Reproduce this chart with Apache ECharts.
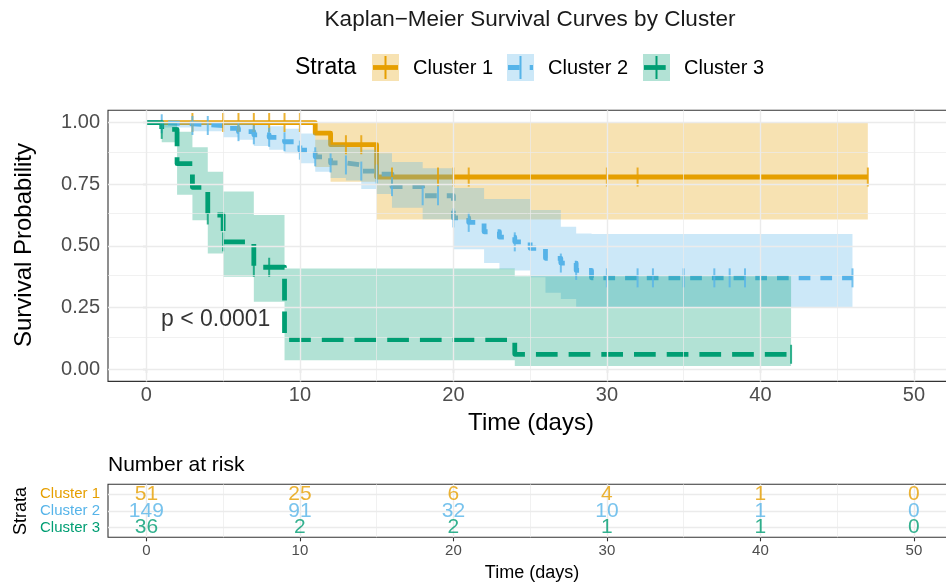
<!DOCTYPE html>
<html><head><meta charset="utf-8">
<script src="https://cdn.jsdelivr.net/npm/echarts@6/dist/echarts.min.js"></script>
<style>html,body{margin:0;padding:0;background:#fff}#c{width:946px;height:585px}</style>
</head><body><div id="c"></div>
<script>
// ---------------- data ----------------
const clusterNames = ['Cluster 1', 'Cluster 2', 'Cluster 3'];
const colors = ['#E69F00', '#56B4E9', '#009E73'];

// Cluster 1 (KM steps)
const c1Time  = [0, 11, 12, 15, 47];
const c1Surv  = [1.0, 0.957, 0.91, 0.779, 0.779];
const c1Lower = [1.0, 0.82, 0.76, 0.607, 0.607];
const c1Upper = [1.0, 1.0, 1.0, 1.0, 1.0];
const c1Censor = [3, 5, 6, 7, 8, 9, 10, 13, 14, 16, 19, 20, 21, 30, 32, 47];

// Cluster 2
const c2Time  = [0, 1, 3, 5, 6, 7, 8, 9, 10, 11, 12, 13, 14, 15, 16, 18, 20, 21, 22, 23, 24, 25, 26, 27, 28, 29, 46];
const c2Surv  = [1.0, 0.995, 0.988, 0.976, 0.963, 0.95, 0.94, 0.922, 0.888, 0.861, 0.836, 0.828, 0.803, 0.791, 0.74, 0.703, 0.613, 0.595, 0.557, 0.535, 0.516, 0.49, 0.449, 0.43, 0.40, 0.37, 0.37];
const c2Lower = [1.0, 0.98, 0.965, 0.94, 0.93, 0.905, 0.89, 0.875, 0.835, 0.80, 0.775, 0.765, 0.73, 0.71, 0.654, 0.608, 0.486, 0.486, 0.43, 0.405, 0.40, 0.372, 0.31, 0.284, 0.25, 0.25, 0.25];
const c2Upper = [1.0, 1.0, 1.0, 1.0, 0.995, 0.99, 0.985, 0.975, 0.955, 0.93, 0.91, 0.90, 0.89, 0.875, 0.84, 0.815, 0.734, 0.734, 0.69, 0.69, 0.69, 0.645, 0.645, 0.577, 0.55, 0.548, 0.548];
const c2Censor = [1, 3, 4, 6, 7, 8, 9, 10, 11, 12, 13, 14, 15, 16, 18, 19, 20, 21, 24, 27, 28, 30, 32, 33, 35, 37, 38, 39, 46];

// Cluster 3
const c3Time  = [0, 1, 2, 3, 4, 5, 7, 9, 24, 42];
const c3Surv  = [1.0, 0.972, 0.833, 0.737, 0.625, 0.516, 0.413, 0.12, 0.06, 0.06];
const c3Lower = [1.0, 0.92, 0.707, 0.604, 0.469, 0.374, 0.273, 0.036, 0.012, 0.012];
const c3Upper = [1.0, 1.0, 0.963, 0.90, 0.80, 0.72, 0.625, 0.408, 0.376, 0.376];
const c3Censor = [1, 4, 5, 7, 8, 42];

// Number at risk table
const riskTimes = [0, 10, 20, 30, 40, 50];
const risk1 = [51, 25, 6, 4, 1, 0];
const risk2 = [149, 91, 32, 10, 1, 0];
const risk3 = [36, 2, 2, 1, 1, 0];

// ticks
const xTicks = [0, 10, 20, 30, 40, 50];
const xMinor = [5, 15, 25, 35, 45];
const yTicks = [0, 0.25, 0.5, 0.75, 1.0];
const yMinor = [0.125, 0.375, 0.625, 0.875];
const riskRows = [3, 2, 1];           // row position of Cluster 1,2,3 in the table
const pvalText = 'p < 0.0001';
const pvalPos = [0.95, 0.2];

// ---------------- build ----------------
const FONT = '"Liberation Sans", Arial, Helvetica, sans-serif';
const pairs = (xs, ys) => xs.map((x, i) => [x, ys[i]]);
function stepValue(times, surv, t) {
  let v = surv[0];
  for (let i = 0; i < times.length; i++) if (times[i] <= t) v = surv[i];
  return v;
}
const clusters = [
  {time: c1Time, surv: c1Surv, lower: c1Lower, upper: c1Upper, censor: c1Censor, dash: 'solid', risk: risk1},
  {time: c2Time, surv: c2Surv, lower: c2Lower, upper: c2Upper, censor: c2Censor, dash: [11.7, 10], risk: risk2},
  {time: c3Time, surv: c3Surv, lower: c3Lower, upper: c3Upper, censor: c3Censor, dash: [21.7, 11], risk: risk3}
];

const GRID_MAJ = '#ebebeb';
function gridLines(xMaj, xMin, yMaj, yMin) {
  const d = [];
  yMin.forEach(v => d.push({yAxis: v, lineStyle: {color: GRID_MAJ, width: 0.7, type: 'solid'}}));
  xMin.forEach(v => d.push({xAxis: v, lineStyle: {color: GRID_MAJ, width: 0.7, type: 'solid'}}));
  yMaj.forEach(v => d.push({yAxis: v, lineStyle: {color: GRID_MAJ, width: 1.4, type: 'solid'}}));
  xMaj.forEach(v => d.push({xAxis: v, lineStyle: {color: GRID_MAJ, width: 1.4, type: 'solid'}}));
  return d;
}

const series = [];
series.push({
  type: 'line', xAxisIndex: 0, yAxisIndex: 0, data: [[0, 0]], symbol: 'none', silent: true, z: 1,
  lineStyle: {opacity: 0},
  markLine: {silent: true, symbol: ['none', 'none'], animation: false, label: {show: false},
    emphasis: {disabled: true}, data: gridLines(xTicks, xMinor, yTicks, yMinor)}
});
series.push({
  type: 'line', xAxisIndex: 1, yAxisIndex: 1, data: [[0, 1]], symbol: 'none', silent: true, z: 1,
  lineStyle: {opacity: 0},
  markLine: {silent: true, symbol: ['none', 'none'], animation: false, label: {show: false},
    emphasis: {disabled: true}, data: gridLines(xTicks, xMinor, riskRows, [])}
});

// survival lines
clusters.forEach((c, k) => {
  series.push({
    type: 'line', name: clusterNames[k], step: 'end', data: pairs(c.time, c.surv), symbol: 'none', z: 2,
    lineStyle: {color: colors[k], width: 4.8, type: c.dash, cap: 'butt', join: 'round'}
  });
});
// confidence bands: one stepped polygon per cluster, via the axes' coordinate conversion
clusters.forEach((c, k) => {
  series.push({
    type: 'custom', coordinateSystem: 'cartesian2d', silent: true, z: 3,
    data: c.time.map((t, i) => [t, c.lower[i], c.upper[i]]),
    encode: {x: 0, y: [1, 2]},
    renderItem: (params, api) => {
      if (params.dataIndex !== 0) return null;
      const n = c.time.length, pts = [];
      for (let i = 0; i < n; i++) {
        pts.push(api.coord([c.time[i], c.upper[i]]));
        if (i < n - 1) pts.push(api.coord([c.time[i + 1], c.upper[i]]));
      }
      for (let i = n - 1; i >= 0; i--) {
        if (i < n - 1) pts.push(api.coord([c.time[i + 1], c.lower[i]]));
        pts.push(api.coord([c.time[i], c.lower[i]]));
      }
      return {type: 'polygon', shape: {points: pts}, style: {fill: colors[k], opacity: 0.3}};
    }
  });
});
// censor marks
clusters.forEach((c, k) => {
  series.push({
    type: 'scatter', data: c.censor.map(t => [t, stepValue(c.time, c.surv, t)]), symbol: 'rect',
    symbolSize: [2, 19], itemStyle: {color: colors[k]}, z: 4, silent: true
  });
});
// p-value annotation
series.push({
  type: 'scatter', data: [pvalPos], symbolSize: 1, itemStyle: {color: 'transparent'}, z: 5, silent: true,
  label: {show: true, position: 'inside', align: 'left', verticalAlign: 'middle', formatter: pvalText,
    fontSize: 23, color: '#000', fontFamily: FONT}
});
// risk table numbers
clusters.forEach((c, k) => {
  series.push({
    type: 'scatter', xAxisIndex: 1, yAxisIndex: 1, symbolSize: 1, itemStyle: {color: 'transparent'}, z: 5, silent: true,
    data: riskTimes.map((t, i) => [t, riskRows[k], c.risk[i]]),
    label: {show: true, position: 'inside', formatter: p => String(p.value[2]), fontSize: 21, color: colors[k], fontFamily: FONT}
  });
});

const tickStyle = {show: true, length: 4, lineStyle: {color: '#333', width: 1.1}};
const option = {
  animation: false,
  backgroundColor: '#fff',
  textStyle: {fontFamily: FONT},
  grid: [
    {left: 108, top: 110.2, width: 844.25, height: 271.2, show: true, borderColor: '#333', borderWidth: 1.1, backgroundColor: '#fff', containLabel: false, outerBoundsMode: 'none'},
    {left: 108, top: 484.3, width: 844.25, height: 53, show: true, borderColor: '#333', borderWidth: 1.1, backgroundColor: '#fff', containLabel: false, outerBoundsMode: 'none'}
  ],
  xAxis: [
    {type: 'value', gridIndex: 0, min: -2.5, max: 52.5, axisLine: {show: false}, splitLine: {show: false},
      axisTick: Object.assign({customValues: xTicks}, tickStyle),
      axisLabel: {customValues: xTicks, fontSize: 20, color: '#4d4d4d', margin: 4, fontFamily: FONT}},
    {type: 'value', gridIndex: 1, min: -2.5, max: 52.5, axisLine: {show: false}, splitLine: {show: false},
      axisTick: Object.assign({customValues: xTicks}, tickStyle),
      axisLabel: {customValues: xTicks, fontSize: 15, color: '#4d4d4d', margin: 6, fontFamily: FONT}}
  ],
  yAxis: [
    {type: 'value', gridIndex: 0, min: -0.05, max: 1.05, axisLine: {show: false}, splitLine: {show: false},
      axisTick: Object.assign({customValues: yTicks}, tickStyle),
      axisLabel: {customValues: yTicks, fontSize: 20, color: '#4d4d4d', margin: 8, fontFamily: FONT,
        formatter: v => Number(v).toFixed(2)}},
    {type: 'value', gridIndex: 1, min: 0.4, max: 3.6, axisLine: {show: false}, splitLine: {show: false},
      axisTick: Object.assign({customValues: riskRows}, tickStyle),
      axisLabel: {customValues: riskRows, margin: 8, fontFamily: FONT,
        formatter: v => { const k = riskRows.indexOf(Math.round(v)); return '{r' + k + '|' + clusterNames[k] + '}'; },
        rich: {r0: {color: colors[0], fontSize: 15, fontFamily: FONT}, r1: {color: colors[1], fontSize: 15, fontFamily: FONT}, r2: {color: colors[2], fontSize: 15, fontFamily: FONT}}}}
  ],
  series: series,
  graphic: []
};

// text & legend (layout elements)
const G = option.graphic;
const txt = (text, x, y, size, opts) => Object.assign({type: 'text', x: x, y: y, silent: true,
  style: Object.assign({text: text, fill: '#000', font: size + 'px ' + FONT, align: 'center', verticalAlign: 'middle'}, (opts && opts.style) || {})},
  (opts && opts.el) || {});
G.push(txt('Kaplan\u2212Meier Survival Curves by Cluster', 530, 20, 22.5, {style: {fill: '#1a1a1a'}}));
G.push(txt('Survival Probability', 24, 245, 24, {el: {rotation: Math.PI / 2}}));
G.push(txt('Time (days)', 531, 423, 24));
G.push(txt('Number at risk', 108, 465, 21, {style: {align: 'left'}}));
G.push(txt('Strata', 21, 511, 18, {el: {rotation: Math.PI / 2}}));
G.push(txt('Time (days)', 532, 573, 18));
// legend
G.push(txt('Strata', 295, 68, 23, {style: {align: 'left'}}));
const legendBoxX = [372, 507, 643];
const dashes = [null, [11.7, 10], [21.7, 11]];
clusterNames.forEach((n, k) => {
  const bx = legendBoxX[k], by = 54, s = 27;
  G.push({type: 'rect', silent: true, shape: {x: bx, y: by, width: s, height: s}, style: {fill: colors[k], opacity: 0.3}});
  G.push({type: 'line', silent: true, shape: {x1: bx + 1, y1: by + s / 2, x2: bx + s - 1, y2: by + s / 2},
    style: {stroke: colors[k], lineWidth: 4.8, lineDash: dashes[k], lineCap: 'butt'}});
  G.push({type: 'line', silent: true, shape: {x1: bx + s / 2, y1: by + 2, x2: bx + s / 2, y2: by + s - 2},
    style: {stroke: colors[k], lineWidth: 2}});
  G.push(txt(n, bx + s + 14, 68, 20, {style: {align: 'left'}}));
});

const chart = echarts.init(document.getElementById('c'), null, {renderer: 'canvas'});
chart.setOption(option);
</script>
</body></html>
